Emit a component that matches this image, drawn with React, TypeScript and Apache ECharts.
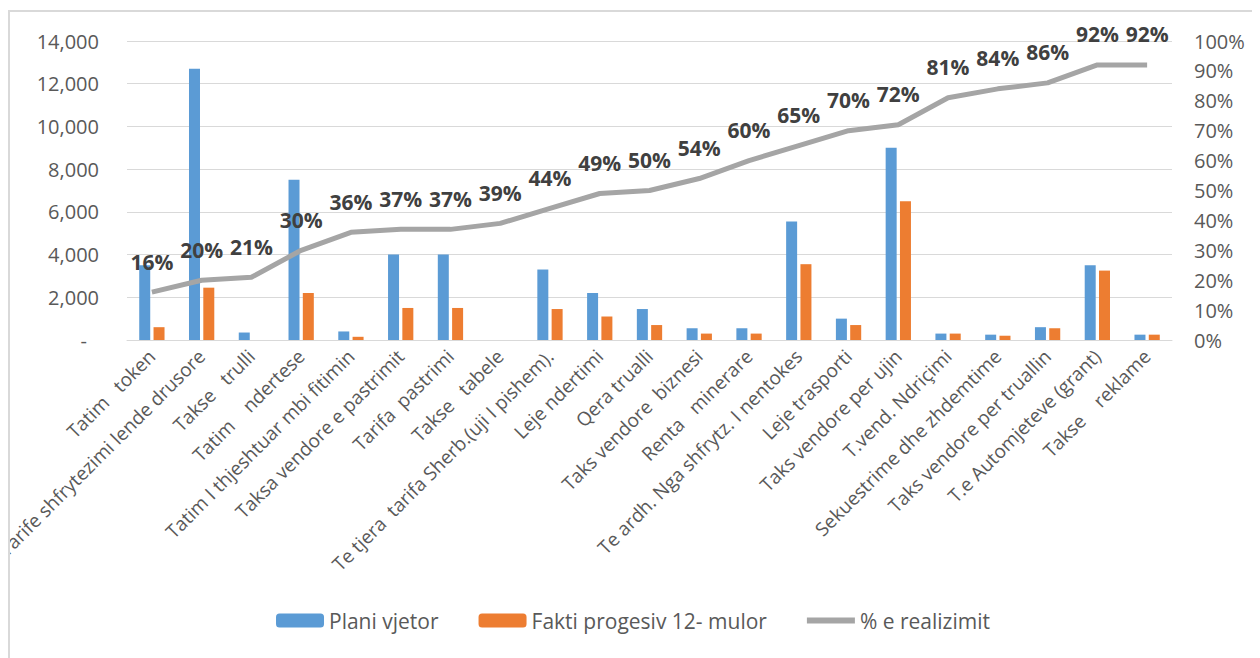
import React, { useEffect, useRef } from "react";
import * as echarts from "echarts";

const categories = [
  "Tatim   token",
  "Tarife shfrytezimi lende drusore",
  "Takse   trulli",
  "Tatim    ndertese",
  "Tatim I thjeshtuar mbi fitimin",
  "Taksa vendore e pastrimit",
  "Tarifa  pastrimi",
  "Takse   tabele",
  "Te tjera  tarifa Sherb.(uji I pishem).",
  "Leje ndertimi",
  "Qera trualli",
  "Taks vendore  biznesi",
  "Renta   minerare",
  "Te ardh. Nga shfrytz. I nentokes",
  "Leje trasporti",
  "Taks vendore per ujin",
  "T.vend. Ndriçimi",
  "Sekuestrime dhe zhdemtime",
  "Taks vendore per truallin",
  "T.e Automjeteve (grant)",
  "Takse    reklame",
];

const planiVjetor = [3500, 12700, 350, 7500, 400, 4000, 4000, 0, 3300, 2200, 1450, 550, 550, 5550, 1000, 9000, 300, 250, 600, 3500, 250];
const faktiProgresiv = [600, 2450, 0, 2200, 150, 1500, 1500, 0, 1450, 1100, 700, 300, 300, 3550, 700, 6500, 300, 200, 550, 3250, 250];
const realizimi = [16, 20, 21, 30, 36, 37, 37, 39, 44, 49, 50, 54, 60, 65, 70, 72, 81, 84, 86, 92, 92];

const seriesNames = ["Plani vjetor", "Fakti progesiv 12- mulor", "% e realizimit"];

export default function App() {
  const ref = useRef<HTMLDivElement>(null);
  useEffect(() => {
    if (!ref.current) return;
    const chart = echarts.init(ref.current, undefined, { renderer: "svg" });
    const font = "Open Sans";
    chart.setOption({
      animation: false,
      backgroundColor: "#ffffff",
      textStyle: { fontFamily: font },
      grid: {
        left: 117,
        right: 84,
        top: 29,
        bottom: 328,
        containLabel: false,
        outerBoundsMode: "none",
      },
      legend: {
        top: 593,
        left: "center",
        itemWidth: 48,
        itemHeight: 14,
        itemGap: 40,
        textStyle: { color: "#595959", fontSize: 21, fontFamily: font },
        data: [
          { name: seriesNames[0] },
          { name: seriesNames[1] },
          {
            name: seriesNames[2],
            icon: "path://M0,0 L48,0 L48,6 L0,6 Z",
            itemStyle: { color: "#A5A5A5" },
          },
        ],
      },
      xAxis: {
        type: "category",
        data: categories,
        axisLine: { show: true, lineStyle: { color: "#D9D9D9", width: 1 } },
        axisTick: { show: false },
        axisLabel: {
          interval: 0,
          rotate: 45,
          margin: 13,
          color: "#595959",
          fontSize: 19,
          fontFamily: font,
        },
      },
      yAxis: [
        {
          type: "value",
          min: 0,
          max: 14000,
          interval: 2000,
          axisLine: { show: false },
          axisTick: { show: false },
          splitLine: { lineStyle: { color: "#D9D9D9", width: 1 } },
          axisLabel: {
            margin: 28,
            color: "#595959",
            fontSize: 20,
            fontFamily: font,
            formatter: (v: number) => (v === 0 ? "{d|-}" : v.toLocaleString("en-US")),
            rich: { d: { padding: [0, 12, 0, 0], fontSize: 20, color: "#595959" } },
          },
        },
        {
          type: "value",
          min: 0,
          max: 100,
          interval: 10,
          position: "right",
          axisLine: { show: false },
          axisTick: { show: false },
          splitLine: { show: false },
          axisLabel: {
            margin: 22,
            color: "#595959",
            fontSize: 20,
            fontFamily: font,
            formatter: "{value}%",
          },
        },
      ],
      series: [
        {
          name: seriesNames[0],
          type: "bar",
          data: planiVjetor,
          barWidth: 11,
          barGap: "30%",
          itemStyle: { color: "#5B9BD5" },
        },
        {
          name: seriesNames[1],
          type: "bar",
          data: faktiProgresiv,
          barWidth: 11,
          barGap: "30%",
          itemStyle: { color: "#ED7D31" },
        },
        {
          name: seriesNames[2],
          type: "line",
          yAxisIndex: 1,
          data: realizimi,
          symbol: "none",
          lineStyle: { color: "#A5A5A5", width: 5 },
          itemStyle: { color: "#A5A5A5" },
          z: 3,
        },
        {
          name: "labels",
          type: "scatter",
          yAxisIndex: 1,
          data: realizimi,
          symbolSize: 2,
          itemStyle: { color: "rgba(0,0,0,0)", opacity: 1 },
          silent: true,
          label: {
            show: true,
            position: "top",
            distance: 19,
            formatter: "{c}%",
            color: "#404040",
            opacity: 1,
            fontSize: 21,
            fontWeight: "bold",
            fontFamily: font,
          },
          labelLayout: { hideOverlap: false },
          z: 4,
        },
      ],
    });
    return () => chart.dispose();
  }, []);
  return (
    <div
      style={{
        width: 1250,
        height: 660,
        marginTop: 2,
        border: "2px solid #D9D9D9",
        boxSizing: "border-box",
        overflow: "hidden",
      }}
    >
      <div ref={ref} style={{ width: 1246, height: 656 }} />
    </div>
  );
}
